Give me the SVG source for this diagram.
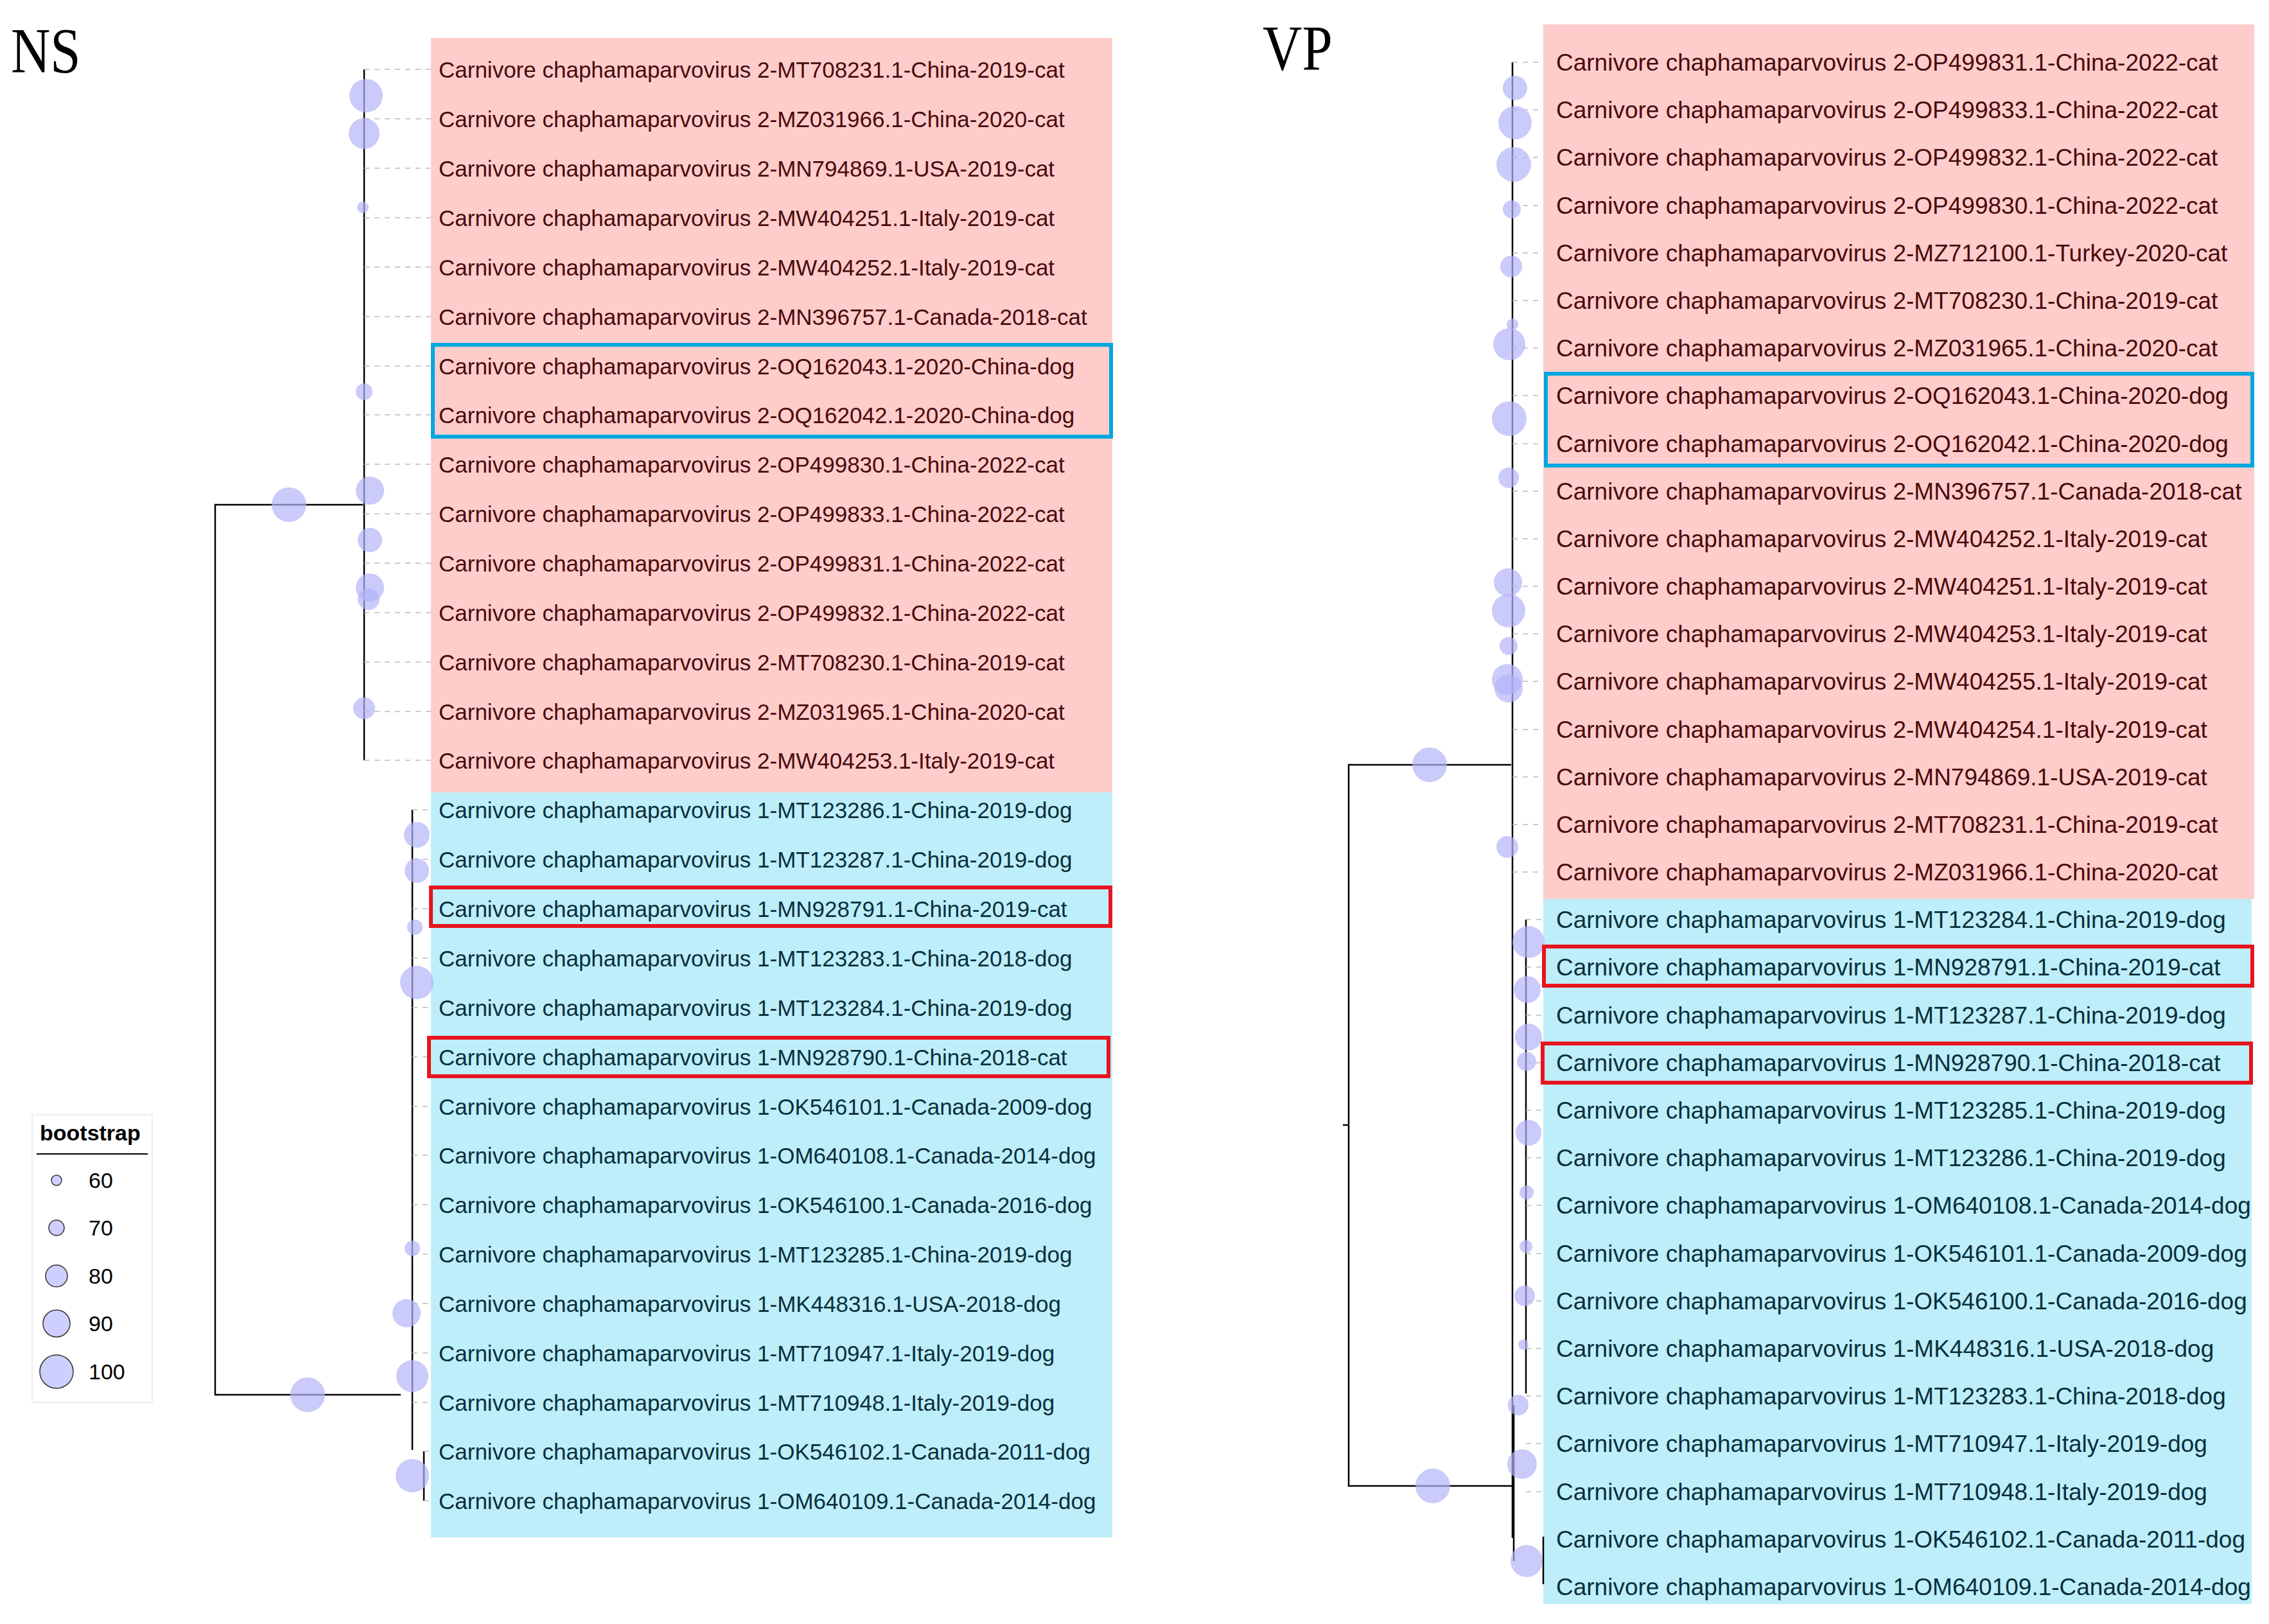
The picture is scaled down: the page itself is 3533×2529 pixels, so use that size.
<svg xmlns="http://www.w3.org/2000/svg" width="3533" height="2529" viewBox="0 0 3533 2529">
<style>
.pk{fill:#ffcccc}.bl{fill:#bdeefa}
.t{font-family:"Liberation Sans",Arial,sans-serif;font-size:35px;dominant-baseline:central}
.tv{font-family:"Liberation Sans",Arial,sans-serif;font-size:37px;dominant-baseline:central}
.r{fill:#4a0a0a}.b{fill:#0a2f3a}
.title{font-family:"Liberation Serif","Times New Roman",serif;font-size:100px;fill:#000}
.e{stroke:#000;stroke-width:2.5;fill:none}
.d{stroke:#bbb;stroke-width:1.5;stroke-dasharray:8 8;fill:none}
.c{fill:#b4b4fa;fill-opacity:0.7}
.box{fill:none;stroke-width:6}
.lg{font-family:"Liberation Sans",Arial,sans-serif;font-size:34px;fill:#000}
</style>
<rect width="3533" height="2529" fill="#fff"/>
<g id="ns-title"><text class="title" x="20" y="112" transform="scale(0.85,1)">NS</text></g>
<g id="vp-title"><text class="title" x="2313" y="108" transform="scale(0.85,1)">VP</text></g>
<g id="ns-bg"><rect class="pk" x="671" y="59" width="1061" height="1175"/><rect class="bl" x="671" y="1234" width="1061" height="1160"/></g>
<g id="vp-bg"><rect class="pk" x="2403" y="38" width="1107" height="1362"/><rect class="bl" x="2403" y="1400" width="1103" height="1098"/></g>
<g id="connectors">
<path class="e" d="M565 786H335V2172H624M567 108V1184M642 1261V2258M660 2260V2337"/>
<path class="d" d="M567 108H671M567 185H671M567 262H671M567 339H671M567 416H671M567 493H671M567 570H671M567 646H671M567 723H671M567 800H671M567 877H671M567 954H671M567 1031H671M567 1108H671M567 1184H671M642 1261H671M642 1338H671M642 1415H671M642 1492H671M642 1569H671M642 1646H671M642 1723H671M642 1799H671M642 1876H671M642 1953H671M642 2030H671M642 2107H671M642 2184H671M660 2260H671M660 2337H671"/>
<path class="e" d="M2353 1191H2100V2314H2357M2091 1752H2100M2355 97V2395M2376 1432V2170M2357 2188V2431M2403 2393V2467"/>
<path class="d" d="M2355 97H2403M2355 171H2403M2355 245H2403M2355 320H2403M2355 394H2403M2355 468H2403M2355 542H2403M2355 616H2403M2355 691H2403M2355 765H2403M2355 839H2403M2355 913H2403M2355 987H2403M2355 1061H2403M2355 1136H2403M2355 1210H2403M2355 1284H2403M2355 1358H2403M2376 1432H2403M2376 1506H2403M2376 1581H2403M2376 1655H2403M2376 1729H2403M2376 1803H2403M2376 1877H2403M2376 1952H2403M2376 2026H2403M2376 2100H2403M2376 2174H2403M2376 2248H2403M2376 2323H2403"/>
</g>
<g id="ns-nodes">
<circle class="c" cx="450" cy="786" r="27"/><circle class="c" cx="479" cy="2172" r="27"/>
<circle class="c" cx="570" cy="149" r="26"/><circle class="c" cx="567" cy="208" r="24"/><circle class="c" cx="565" cy="323" r="9"/><circle class="c" cx="567" cy="610" r="13"/><circle class="c" cx="576" cy="764" r="22"/><circle class="c" cx="576" cy="841" r="19"/><circle class="c" cx="576" cy="915" r="22"/><circle class="c" cx="574" cy="933" r="17"/><circle class="c" cx="567" cy="1103" r="17"/>
<circle class="c" cx="649" cy="1300" r="20"/><circle class="c" cx="649" cy="1356" r="19"/><circle class="c" cx="646" cy="1444" r="12"/><circle class="c" cx="649" cy="1530" r="26"/><circle class="c" cx="642" cy="1944" r="12"/><circle class="c" cx="633" cy="2045" r="22"/><circle class="c" cx="642" cy="2143" r="25"/><circle class="c" cx="642" cy="2298" r="26"/>
</g>
<g id="vp-nodes">
<circle class="c" cx="2226" cy="1191" r="27"/><circle class="c" cx="2231" cy="2314" r="27"/>
<circle class="c" cx="2359" cy="137" r="19"/><circle class="c" cx="2359" cy="191" r="26"/><circle class="c" cx="2357" cy="256" r="27"/><circle class="c" cx="2354" cy="326" r="14"/><circle class="c" cx="2353" cy="415" r="17"/><circle class="c" cx="2355" cy="505" r="9"/><circle class="c" cx="2350" cy="536" r="25"/><circle class="c" cx="2350" cy="652" r="27"/><circle class="c" cx="2349" cy="744" r="16"/><circle class="c" cx="2348" cy="907" r="22"/><circle class="c" cx="2349" cy="951" r="26"/><circle class="c" cx="2349" cy="1006" r="14"/><circle class="c" cx="2347" cy="1058" r="24"/><circle class="c" cx="2349" cy="1072" r="22"/><circle class="c" cx="2347" cy="1319" r="17"/>
<circle class="c" cx="2380" cy="1467" r="25"/><circle class="c" cx="2378" cy="1541" r="21"/><circle class="c" cx="2380" cy="1615" r="21"/><circle class="c" cx="2377" cy="1653" r="15"/><circle class="c" cx="2380" cy="1764" r="20"/><circle class="c" cx="2377" cy="1857" r="11"/><circle class="c" cx="2376" cy="1941" r="10"/><circle class="c" cx="2374" cy="2018" r="16"/><circle class="c" cx="2372" cy="2094" r="8"/><circle class="c" cx="2364" cy="2188" r="16"/><circle class="c" cx="2370" cy="2280" r="23"/><circle class="c" cx="2377" cy="2431" r="25"/>
</g>
<g id="ns-labels">
<text class="t r" x="683" y="108">Carnivore chaphamaparvovirus 2-MT708231.1-China-2019-cat</text>
<text class="t r" x="683" y="185">Carnivore chaphamaparvovirus 2-MZ031966.1-China-2020-cat</text>
<text class="t r" x="683" y="262">Carnivore chaphamaparvovirus 2-MN794869.1-USA-2019-cat</text>
<text class="t r" x="683" y="339">Carnivore chaphamaparvovirus 2-MW404251.1-Italy-2019-cat</text>
<text class="t r" x="683" y="416">Carnivore chaphamaparvovirus 2-MW404252.1-Italy-2019-cat</text>
<text class="t r" x="683" y="493">Carnivore chaphamaparvovirus 2-MN396757.1-Canada-2018-cat</text>
<text class="t r" x="683" y="570">Carnivore chaphamaparvovirus 2-OQ162043.1-2020-China-dog</text>
<text class="t r" x="683" y="646">Carnivore chaphamaparvovirus 2-OQ162042.1-2020-China-dog</text>
<text class="t r" x="683" y="723">Carnivore chaphamaparvovirus 2-OP499830.1-China-2022-cat</text>
<text class="t r" x="683" y="800">Carnivore chaphamaparvovirus 2-OP499833.1-China-2022-cat</text>
<text class="t r" x="683" y="877">Carnivore chaphamaparvovirus 2-OP499831.1-China-2022-cat</text>
<text class="t r" x="683" y="954">Carnivore chaphamaparvovirus 2-OP499832.1-China-2022-cat</text>
<text class="t r" x="683" y="1031">Carnivore chaphamaparvovirus 2-MT708230.1-China-2019-cat</text>
<text class="t r" x="683" y="1108">Carnivore chaphamaparvovirus 2-MZ031965.1-China-2020-cat</text>
<text class="t r" x="683" y="1184">Carnivore chaphamaparvovirus 2-MW404253.1-Italy-2019-cat</text>
<text class="t b" x="683" y="1261">Carnivore chaphamaparvovirus 1-MT123286.1-China-2019-dog</text>
<text class="t b" x="683" y="1338">Carnivore chaphamaparvovirus 1-MT123287.1-China-2019-dog</text>
<text class="t b" x="683" y="1415">Carnivore chaphamaparvovirus 1-MN928791.1-China-2019-cat</text>
<text class="t b" x="683" y="1492">Carnivore chaphamaparvovirus 1-MT123283.1-China-2018-dog</text>
<text class="t b" x="683" y="1569">Carnivore chaphamaparvovirus 1-MT123284.1-China-2019-dog</text>
<text class="t b" x="683" y="1646">Carnivore chaphamaparvovirus 1-MN928790.1-China-2018-cat</text>
<text class="t b" x="683" y="1723">Carnivore chaphamaparvovirus 1-OK546101.1-Canada-2009-dog</text>
<text class="t b" x="683" y="1799">Carnivore chaphamaparvovirus 1-OM640108.1-Canada-2014-dog</text>
<text class="t b" x="683" y="1876">Carnivore chaphamaparvovirus 1-OK546100.1-Canada-2016-dog</text>
<text class="t b" x="683" y="1953">Carnivore chaphamaparvovirus 1-MT123285.1-China-2019-dog</text>
<text class="t b" x="683" y="2030">Carnivore chaphamaparvovirus 1-MK448316.1-USA-2018-dog</text>
<text class="t b" x="683" y="2107">Carnivore chaphamaparvovirus 1-MT710947.1-Italy-2019-dog</text>
<text class="t b" x="683" y="2184">Carnivore chaphamaparvovirus 1-MT710948.1-Italy-2019-dog</text>
<text class="t b" x="683" y="2260">Carnivore chaphamaparvovirus 1-OK546102.1-Canada-2011-dog</text>
<text class="t b" x="683" y="2337">Carnivore chaphamaparvovirus 1-OM640109.1-Canada-2014-dog</text>
</g>
<g id="vp-labels">
<text class="tv r" x="2423" y="97">Carnivore chaphamaparvovirus 2-OP499831.1-China-2022-cat</text>
<text class="tv r" x="2423" y="171">Carnivore chaphamaparvovirus 2-OP499833.1-China-2022-cat</text>
<text class="tv r" x="2423" y="245">Carnivore chaphamaparvovirus 2-OP499832.1-China-2022-cat</text>
<text class="tv r" x="2423" y="320">Carnivore chaphamaparvovirus 2-OP499830.1-China-2022-cat</text>
<text class="tv r" x="2423" y="394">Carnivore chaphamaparvovirus 2-MZ712100.1-Turkey-2020-cat</text>
<text class="tv r" x="2423" y="468">Carnivore chaphamaparvovirus 2-MT708230.1-China-2019-cat</text>
<text class="tv r" x="2423" y="542">Carnivore chaphamaparvovirus 2-MZ031965.1-China-2020-cat</text>
<text class="tv r" x="2423" y="616">Carnivore chaphamaparvovirus 2-OQ162043.1-China-2020-dog</text>
<text class="tv r" x="2423" y="691">Carnivore chaphamaparvovirus 2-OQ162042.1-China-2020-dog</text>
<text class="tv r" x="2423" y="765">Carnivore chaphamaparvovirus 2-MN396757.1-Canada-2018-cat</text>
<text class="tv r" x="2423" y="839">Carnivore chaphamaparvovirus 2-MW404252.1-Italy-2019-cat</text>
<text class="tv r" x="2423" y="913">Carnivore chaphamaparvovirus 2-MW404251.1-Italy-2019-cat</text>
<text class="tv r" x="2423" y="987">Carnivore chaphamaparvovirus 2-MW404253.1-Italy-2019-cat</text>
<text class="tv r" x="2423" y="1061">Carnivore chaphamaparvovirus 2-MW404255.1-Italy-2019-cat</text>
<text class="tv r" x="2423" y="1136">Carnivore chaphamaparvovirus 2-MW404254.1-Italy-2019-cat</text>
<text class="tv r" x="2423" y="1210">Carnivore chaphamaparvovirus 2-MN794869.1-USA-2019-cat</text>
<text class="tv r" x="2423" y="1284">Carnivore chaphamaparvovirus 2-MT708231.1-China-2019-cat</text>
<text class="tv r" x="2423" y="1358">Carnivore chaphamaparvovirus 2-MZ031966.1-China-2020-cat</text>
<text class="tv b" x="2423" y="1432">Carnivore chaphamaparvovirus 1-MT123284.1-China-2019-dog</text>
<text class="tv b" x="2423" y="1506">Carnivore chaphamaparvovirus 1-MN928791.1-China-2019-cat</text>
<text class="tv b" x="2423" y="1581">Carnivore chaphamaparvovirus 1-MT123287.1-China-2019-dog</text>
<text class="tv b" x="2423" y="1655">Carnivore chaphamaparvovirus 1-MN928790.1-China-2018-cat</text>
<text class="tv b" x="2423" y="1729">Carnivore chaphamaparvovirus 1-MT123285.1-China-2019-dog</text>
<text class="tv b" x="2423" y="1803">Carnivore chaphamaparvovirus 1-MT123286.1-China-2019-dog</text>
<text class="tv b" x="2423" y="1877">Carnivore chaphamaparvovirus 1-OM640108.1-Canada-2014-dog</text>
<text class="tv b" x="2423" y="1952">Carnivore chaphamaparvovirus 1-OK546101.1-Canada-2009-dog</text>
<text class="tv b" x="2423" y="2026">Carnivore chaphamaparvovirus 1-OK546100.1-Canada-2016-dog</text>
<text class="tv b" x="2423" y="2100">Carnivore chaphamaparvovirus 1-MK448316.1-USA-2018-dog</text>
<text class="tv b" x="2423" y="2174">Carnivore chaphamaparvovirus 1-MT123283.1-China-2018-dog</text>
<text class="tv b" x="2423" y="2248">Carnivore chaphamaparvovirus 1-MT710947.1-Italy-2019-dog</text>
<text class="tv b" x="2423" y="2323">Carnivore chaphamaparvovirus 1-MT710948.1-Italy-2019-dog</text>
<text class="tv b" x="2423" y="2397">Carnivore chaphamaparvovirus 1-OK546102.1-Canada-2011-dog</text>
<text class="tv b" x="2423" y="2471">Carnivore chaphamaparvovirus 1-OM640109.1-Canada-2014-dog</text>
</g>
<g id="highlights">
<rect class="box" x="674" y="537" width="1056" height="143" stroke="#00a8e0"/>
<rect class="box" x="671" y="1382" width="1058" height="60" stroke="#e8141e" stroke-width="5"/>
<rect class="box" x="668" y="1616" width="1058" height="60" stroke="#e8141e" stroke-width="5"/>
<rect class="box" x="2407" y="582" width="1100" height="143" stroke="#00a8e0"/>
<rect class="box" x="2404" y="1474" width="1103" height="61" stroke="#e8141e" stroke-width="5"/>
<rect class="box" x="2402" y="1625" width="1103" height="61" stroke="#e8141e" stroke-width="5"/>
</g>
<g id="legend">
<rect x="50" y="1736" width="187" height="448" fill="#fff" stroke="#eee" stroke-width="2"/>
<text class="lg" x="62" y="1776" font-weight="bold">bootstrap</text>
<line x1="57" y1="1797" x2="230" y2="1797" stroke="#000" stroke-width="2"/>
<g stroke="#333" stroke-width="1.5" fill="#cfcfff">
<circle cx="88" cy="1838" r="8"/><circle cx="88" cy="1912" r="12"/><circle cx="88" cy="1987" r="17"/><circle cx="88" cy="2061" r="21"/><circle cx="88" cy="2136" r="26"/>
</g>
<text class="lg" x="138" y="1850">60</text><text class="lg" x="138" y="1924">70</text><text class="lg" x="138" y="1999">80</text><text class="lg" x="138" y="2073">90</text><text class="lg" x="138" y="2148">100</text>
</g>
</svg>
